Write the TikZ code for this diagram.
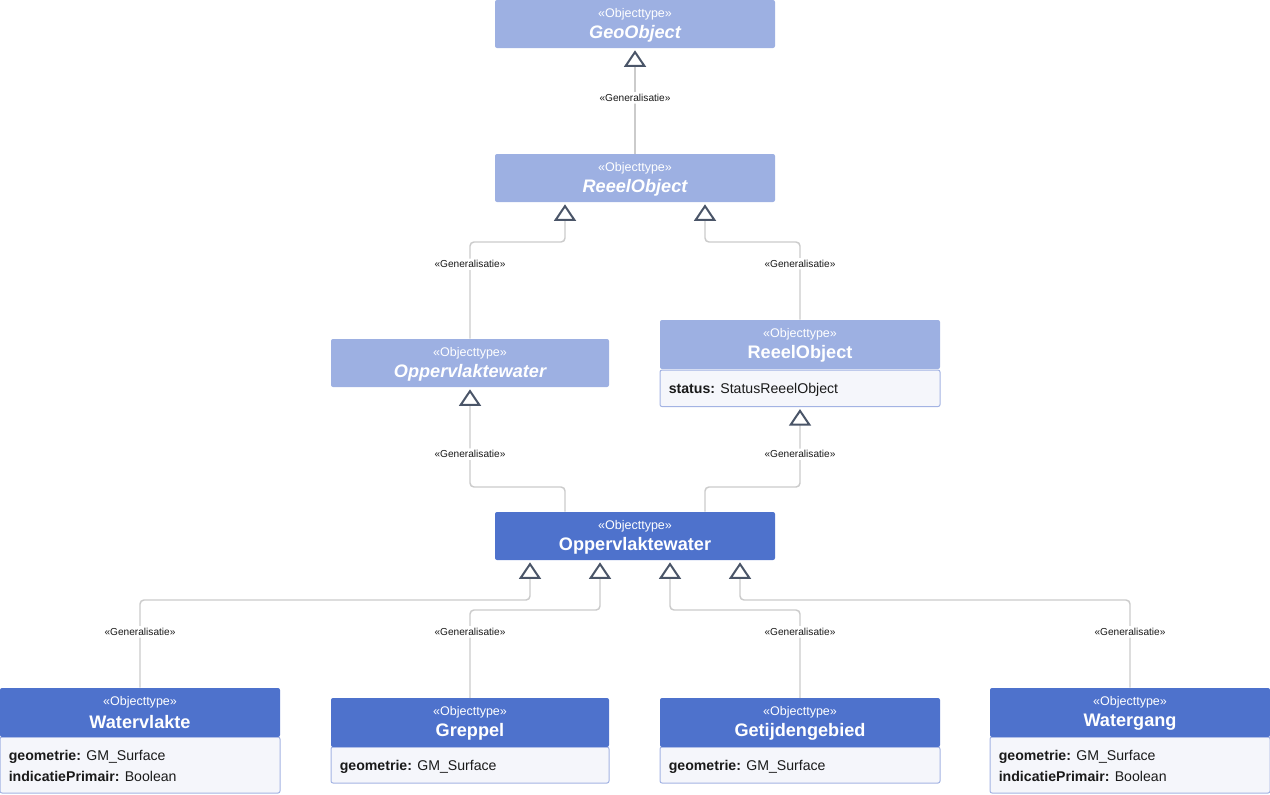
\documentclass[tikz,border=0pt]{standalone}
\usepackage{fontspec}
\setmainfont{Liberation Sans}
\usetikzlibrary{arrows.meta,calc}

\definecolor{absfill}{HTML}{9DB0E2}
\definecolor{concfill}{HTML}{4E72CC}
\definecolor{attrfill}{HTML}{F5F6FB}
\definecolor{attrline}{HTML}{A3B3E3}
\definecolor{wire}{HTML}{CBCBCB}
\definecolor{tipcol}{HTML}{4A5568}
\definecolor{txt}{HTML}{1A1A1A}

\tikzset{
  head/.style={rectangle, rounded corners=1.5pt, minimum height=36pt, inner sep=0pt, draw=none},
  abshead/.style={head, fill=absfill},
  conchead/.style={head, fill=concfill, minimum height=36.75pt},
  attrbox/.style={rectangle, rounded corners=1.5pt, fill=attrfill, draw=attrline,
    line width=0.75pt, inner sep=0pt, anchor=north},
  stereo/.style={text=white, font=\fontsize{9.4}{11}\selectfont, inner sep=0pt},
  cname/.style={text=white, font=\fontsize{13.6}{16}\selectfont\bfseries, inner sep=0pt},
  aname/.style={text=white, font=\fontsize{13.6}{16}\selectfont\bfseries\itshape, inner sep=0pt},
  attr/.style={text=txt, font=\fontsize{10.6}{13}\selectfont, inner sep=0pt, anchor=west},
  gen/.style={draw=wire, line width=1.1pt, rounded corners=3pt,
    -{Triangle[open, length=12.5pt, width=16.5pt, line width=1.5pt, color=tipcol]},
    shorten >=1.5pt},
  genlbl/.style={fill=white, text=txt, font=\fontsize{7.6}{9}\selectfont, inner sep=1.5pt},
}

\begin{document}
\begin{tikzpicture}[x=0.75pt, y=-0.75pt]
\useasboundingbox (0,0) rectangle (1270,794);

% routing rows of the generalisation lines
\coordinate (rowA) at (0,242);
\coordinate (rowB) at (0,487);
\coordinate (rowC) at (0,600);
\coordinate (rowD) at (0,610);

% ---- abstract classes ----
\node[abshead, minimum width=210pt] (geo) at (635,24) {};
\node[stereo] (geoS) at ($(geo.north)+(0,14.5)$) {«Objecttype»};
\node[aname] (geoN) at ($(geo.north)+(0,34)$) {GeoObject};

\node[abshead, minimum width=210pt] (reeelA) at (635,178) {};
\node[stereo] (reeelAS) at ($(reeelA.north)+(0,14.5)$) {«Objecttype»};
\node[aname] (reeelAN) at ($(reeelA.north)+(0,34)$) {ReeelObject};

\node[abshead, minimum width=208.5pt] (oppA) at (470,363) {};
\node[stereo] (oppAS) at ($(oppA.north)+(0,14.5)$) {«Objecttype»};
\node[aname] (oppAN) at ($(oppA.north)+(0,34)$) {Oppervlaktewater};

% ---- ReeelObject with attribute ----
\node[attrbox, minimum width=210pt, minimum height=27.4pt] (reeelCa) at (800,369.5) {};
\node[abshead, minimum width=210pt, minimum height=36.75pt] (reeelC) at (800,344.5) {};
\node[stereo] (reeelCS) at ($(reeelC.north)+(0,14.5)$) {«Objecttype»};
\node[cname] (reeelCN) at ($(reeelC.north)+(0,34.5)$) {ReeelObject};
\node[attr] (reeelC1) at ($(reeelCa.north west)+(9,20)$) {\textbf{status:} StatusReeelObject};

% ---- Oppervlaktewater ----
\node[conchead, minimum width=210pt, minimum height=36pt] (opw) at (635,536) {};
\node[stereo] (opwS) at ($(opw.north)+(0,14.5)$) {«Objecttype»};
\node[cname] (opwN) at ($(opw.north)+(0,34)$) {Oppervlaktewater};

% ---- leaf classes ----
\node[attrbox, minimum width=210pt, minimum height=42pt] (wva) at (140,736.5) {};
\node[conchead, minimum width=210pt] (wv) at (140,712.5) {};
\node[stereo] (wvS) at ($(wv.north)+(0,14.5)$) {«Objecttype»};
\node[cname] (wvN) at ($(wv.north)+(0,34)$) {Watervlakte};
\node[attr] (wv1) at ($(wva.north west)+(9,20)$) {\textbf{geometrie:} GM\_Surface};
\node[attr] (wv2) at ($(wva.north west)+(9,40)$) {\textbf{indicatiePrimair:} Boolean};

\node[attrbox, minimum width=208.5pt, minimum height=27pt] (gra) at (470,746.5) {};
\node[conchead, minimum width=208.5pt] (gr) at (470,722.5) {};
\node[stereo] (grS) at ($(gr.north)+(0,14.5)$) {«Objecttype»};
\node[cname] (grN) at ($(gr.north)+(0,34)$) {Greppel};
\node[attr] (gr1) at ($(gra.north west)+(9,20)$) {\textbf{geometrie:} GM\_Surface};

\node[attrbox, minimum width=210pt, minimum height=27pt] (gta) at (800,746.5) {};
\node[conchead, minimum width=210pt] (gt) at (800,722.5) {};
\node[stereo] (gtS) at ($(gt.north)+(0,14.5)$) {«Objecttype»};
\node[cname] (gtN) at ($(gt.north)+(0,34)$) {Getijdengebied};
\node[attr] (gt1) at ($(gta.north west)+(9,20)$) {\textbf{geometrie:} GM\_Surface};

\node[attrbox, minimum width=210pt, minimum height=42pt] (wga) at (1130,736.5) {};
\node[conchead, minimum width=210pt] (wg) at (1130,712.5) {};
\node[stereo] (wgS) at ($(wg.north)+(0,14.5)$) {«Objecttype»};
\node[cname] (wgN) at ($(wg.north)+(0,34)$) {Watergang};
\node[attr] (wg1) at ($(wga.north west)+(9,20)$) {\textbf{geometrie:} GM\_Surface};
\node[attr] (wg2) at ($(wga.north west)+(9,40)$) {\textbf{indicatiePrimair:} Boolean};

% ---- attachment points on the parents ----
\coordinate (reeelAL) at ($(reeelA.south)+(-70,0)$);
\coordinate (reeelAR) at ($(reeelA.south)+(70,0)$);
\coordinate (opwTL) at ($(opw.north)+(-70,0)$);
\coordinate (opwTR) at ($(opw.north)+(70,0)$);
\coordinate (opw1) at ($(opw.south)+(-105,0)$);
\coordinate (opw2) at ($(opw.south)+(-35,0)$);
\coordinate (opw3) at ($(opw.south)+(35,0)$);
\coordinate (opw4) at ($(opw.south)+(105,0)$);

% ---- generalisations ----
\draw[gen] (reeelA.north) -- node[genlbl, pos=0.53] {«Generalisatie»} (geo.south);

\draw[gen] (oppA.north) -- node[genlbl, pos=0.77] {«Generalisatie»} (oppA.north |- rowA) -| (reeelAL);
\draw[gen] (reeelC.north) -- node[genlbl, pos=0.72] {«Generalisatie»} (reeelC.north |- rowA) -| (reeelAR);

\draw[gen] (opwTL) |- (rowB -| oppA.south) -- node[genlbl, pos=0.33] {«Generalisatie»} (oppA.south);
\draw[gen] (opwTR) |- (rowB -| reeelCa.south) -- node[genlbl, pos=0.41] {«Generalisatie»} (reeelCa.south);

\draw[gen] (wv.north) -- node[genlbl, pos=0.636] {«Generalisatie»} (wv.north |- rowC) -| (opw1);
\draw[gen] (gr.north) -- node[genlbl, pos=0.75] {«Generalisatie»} (gr.north |- rowD) -| (opw2);
\draw[gen] (gt.north) -- node[genlbl, pos=0.75] {«Generalisatie»} (gt.north |- rowD) -| (opw3);
\draw[gen] (wg.north) -- node[genlbl, pos=0.636] {«Generalisatie»} (wg.north |- rowC) -| (opw4);
\end{tikzpicture}
\end{document}
